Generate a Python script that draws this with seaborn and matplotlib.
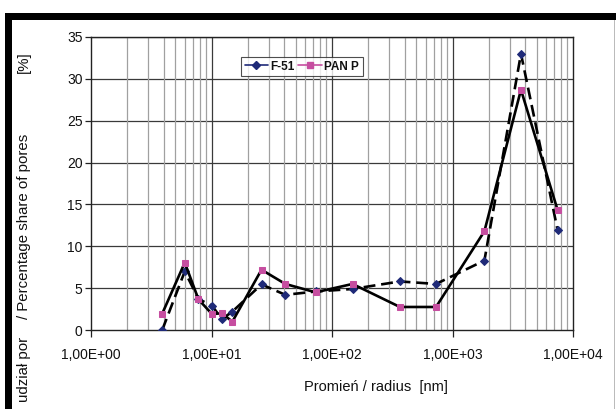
import matplotlib
matplotlib.use("Agg")
import matplotlib.pyplot as plt
import seaborn as sns
import numpy as np
import pandas as pd
from matplotlib.lines import Line2D
from matplotlib.patches import Rectangle
from matplotlib.ticker import LogLocator, FixedLocator, NullFormatter

# ---- data ----
radius_nm = [3.9, 6.0, 7.8, 10.1, 12.2, 14.9, 26, 41, 73, 148, 366, 730, 1840, 3700, 7460]
f51 = [0.0, 7.0, 3.7, 2.9, 1.3, 2.2, 5.45, 4.2, 4.6, 4.9, 5.8, 5.5, 8.3, 33.0, 11.9]
panp = [1.95, 8.05, 3.65, 1.9, 2.0, 1.0, 7.2, 5.5, 4.5, 5.5, 2.75, 2.75, 11.8, 28.7, 14.3]
series_names = ["F-51", "PAN P"]
x_tick_values = [1, 10, 100, 1000, 10000]
x_tick_labels = ["1,00E+00", "1,00E+01", "1,00E+02", "1,00E+03", "1,00E+04"]
y_tick_values = [0, 5, 10, 15, 20, 25, 30, 35]

sns.set_theme(style="white")
plt.rcParams['font.family'] = ['Liberation Sans', 'DejaVu Sans']

W, H = 616, 409
fig = plt.figure(figsize=(W / 100, H / 100), dpi=100)
fig.patch.set_facecolor("white")
ax = fig.add_axes([91 / W, 1 - 330 / H, (573 - 91) / W, (330 - 37) / H])

navy = "#1f2a78"
magenta = "#c64ea0"

df = pd.DataFrame({"radius": radius_nm, "F-51": f51, "PAN P": panp})

sns.lineplot(data=df, x="radius", y="F-51", ax=ax, color="black", lw=1.9,
             linestyle=(0, (4.5, 2.2)), marker="D", markersize=4,
             markerfacecolor=navy, markeredgecolor=navy, zorder=3, sort=False)
sns.lineplot(data=df, x="radius", y="PAN P", ax=ax, color="black", lw=1.9,
             linestyle="-", marker="s", markersize=5,
             markerfacecolor=magenta, markeredgecolor=magenta, zorder=4, sort=False)

ax.set_xscale("log")
ax.set_xlim(1, 10000)
ax.set_ylim(0, 35)

# grid
ax.xaxis.set_major_locator(FixedLocator(x_tick_values))
ax.xaxis.set_minor_locator(LogLocator(base=10, subs=np.arange(2, 10)))
ax.xaxis.set_minor_formatter(NullFormatter())
ax.set_xticklabels(x_tick_labels)
ax.set_yticks(y_tick_values)
ax.grid(False)
for v in y_tick_values[1:]:
    ax.axhline(v, color="#3a3a3a", lw=0.9, zorder=1)
for dec in [1, 10, 100, 1000]:
    for s in range(2, 10):
        ax.axvline(dec * s, color="#a0a0a0", lw=0.9, zorder=1)
    if dec > 1:
        ax.axvline(dec, color="#3a3a3a", lw=0.9, zorder=1)

for side in ["left", "bottom", "top", "right"]:
    ax.spines[side].set_visible(True)
    ax.spines[side].set_color("#222222")
    ax.spines[side].set_linewidth(1.0)

ax.tick_params(axis="x", which="major", direction="out", length=5, width=0.9,
               color="#222222", labelsize=10, pad=8, bottom=True)
ax.tick_params(axis="x", which="minor", length=0)
ax.tick_params(axis="y", which="major", direction="out", length=4, width=0.9,
               color="#222222", labelsize=10, pad=2, left=True)
for lbl in ax.get_xticklabels() + ax.get_yticklabels():
    lbl.set_color("#111111")

ax.set_xlabel("")
ax.set_ylabel("")

# axis titles
fig.text(376 / W, 1 - 387 / H, "Promień / radius  [nm]", ha="center", va="center",
         fontsize=10.5, color="#111111")
fig.text(24 / W, 1 - 226 / H, "/ Percentage share of pores", rotation=90,
         ha="center", va="center", fontsize=10.8, color="#111111")
fig.text(24 / W, 1 - 369 / H, "udział por", rotation=90,
         ha="center", va="center", fontsize=10.8, color="#111111")
fig.text(24 / W, 1 - 62 / H, "[%]", rotation=90,
         ha="center", va="center", fontsize=10.8, color="#111111")

# legend
handles = [
    Line2D([], [], color=navy, lw=1.2, marker="D", markersize=4,
           markerfacecolor=navy, markeredgecolor=navy),
    Line2D([], [], color=magenta, lw=1.2, marker="s", markersize=4.5,
           markerfacecolor=magenta, markeredgecolor=magenta),
]
leg = fig.legend(handles, series_names, loc="upper left",
                 bbox_to_anchor=(241 / W, 1 - 57 / H), ncol=2,
                 frameon=True, fancybox=False, handlelength=2.0,
                 handletextpad=0.2, columnspacing=0.3, borderpad=0.3,
                 borderaxespad=0, prop={"size": 8.5, "weight": "bold"})
leg.get_frame().set_edgecolor("#222222")
leg.get_frame().set_linewidth(0.8)
for t in leg.get_texts():
    t.set_color("#111111")

# outer frame (black bars, as in the scanned figure)
fig.patches.append(Rectangle((5 / W, 0), 7 / W, 1 - 13 / H, transform=fig.transFigure,
                             facecolor="black", edgecolor="none", zorder=10))
fig.patches.append(Rectangle((5 / W, 1 - 20 / H), 1 - 5 / W, 7 / H, transform=fig.transFigure,
                             facecolor="black", edgecolor="none", zorder=10))
fig.patches.append(Rectangle((614 / W, 0), 1 / W, 1 - 20 / H, transform=fig.transFigure,
                             facecolor="#bbbbbb", edgecolor="none", zorder=10))

fig.savefig("out.png", dpi=100)
